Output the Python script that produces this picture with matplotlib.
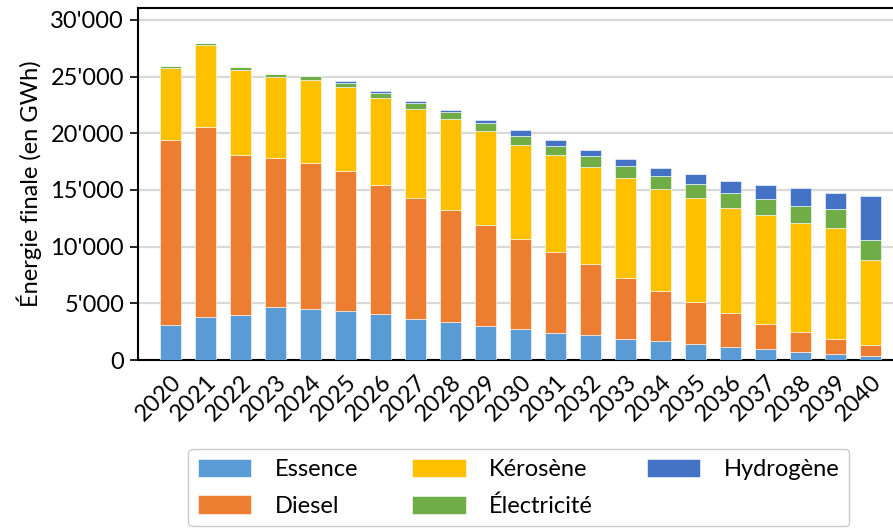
import numpy as np
import matplotlib.pyplot as plt
from matplotlib.ticker import FuncFormatter

plt.rcParams['font.family'] = ['Lato', 'DejaVu Sans']

# ── data (GWh) ────────────────────────────────────────────────────────────────
years = [str(y) for y in range(2020, 2041)]

essence = [3080, 3760, 3940, 4640, 4470, 4320, 4050, 3640, 3350, 3000, 2700,
           2410, 2170, 1870, 1640, 1410, 1150, 940, 730, 560, 380]
diesel = [16360, 16770, 14120, 13220, 12920, 12330, 11370, 10660, 9840, 8950, 8020,
          7160, 6260, 5380, 4440, 3670, 2960, 2260, 1710, 1290, 940]
kerosene = [6350, 7250, 7550, 7100, 7340, 7400, 7720, 7840, 8070, 8250, 8280,
            8490, 8600, 8820, 9040, 9190, 9340, 9550, 9690, 9810, 7490]
electricite = [110, 180, 200, 240, 290, 380, 380, 530, 590, 710, 760,
               820, 940, 1050, 1150, 1270, 1320, 1440, 1500, 1670, 1760]
hydrogene = [0, 0, 0, 0, 0, 150, 180, 180, 200, 260, 530,
             500, 590, 640, 680, 850, 1030, 1230, 1520, 1440, 3910]

series = [
    ("Essence", essence, "#5B9BD5"),
    ("Diesel", diesel, "#ED7D31"),
    ("Kérosène", kerosene, "#FFC000"),
    ("Électricité", electricite, "#70AD47"),
    ("Hydrogène", hydrogene, "#4472C4"),
]

# ── plot ──────────────────────────────────────────────────────────────────────
fig = plt.figure(figsize=(8.93, 5.28), dpi=100)
ax = fig.add_axes([0.1545, 0.318, 0.8455, 0.667])

x = np.arange(len(years))
bottom = np.zeros(len(years))
for name, vals, color in series:
    vals = np.array(vals, dtype=float)
    ax.bar(x, vals, width=0.6, bottom=bottom, color=color, label=name,
           edgecolor="white", linewidth=0.4, zorder=3)
    bottom += vals

ax.set_xlim(-0.94, 20.63)
ax.set_ylim(0, 31050)
ax.set_yticks(np.arange(0, 30001, 5000))
ax.yaxis.set_major_formatter(FuncFormatter(lambda v, _: f"{int(v):,}".replace(",", "'")))
ax.grid(axis="y", color="#D9D9D9", linewidth=1.6, zorder=0)
ax.set_axisbelow(True)

ax.set_xticks(x)
ax.set_xticklabels(years, rotation=45, ha="right", rotation_mode="anchor")
ax.tick_params(axis="x", length=0, labelsize=17, pad=8)
ax.tick_params(axis="y", length=6, width=1.2, labelsize=17, pad=4)

for side in ("left", "bottom", "top"):
    ax.spines[side].set_color("black")
    ax.spines[side].set_linewidth(1.5)
ax.spines["right"].set_visible(False)

ax.set_ylabel("Énergie finale (en GWh)", fontsize=17, labelpad=6)

handles, labels = ax.get_legend_handles_labels()
leg = fig.legend(handles, labels, ncol=3, loc="lower center",
                 bbox_to_anchor=(0.581, 0.003), borderaxespad=0, fontsize=17,
                 frameon=True, handlelength=2.25, handleheight=0.8,
                 handletextpad=1.0, columnspacing=2.3, labelspacing=0.65,
                 borderpad=0.4, fancybox=True, edgecolor="#BFBFBF")
leg.get_frame().set_linewidth(1.0)
leg.get_frame().set_boxstyle("round,pad=0,rounding_size=0.2")

fig.savefig("out.png", dpi=100)
